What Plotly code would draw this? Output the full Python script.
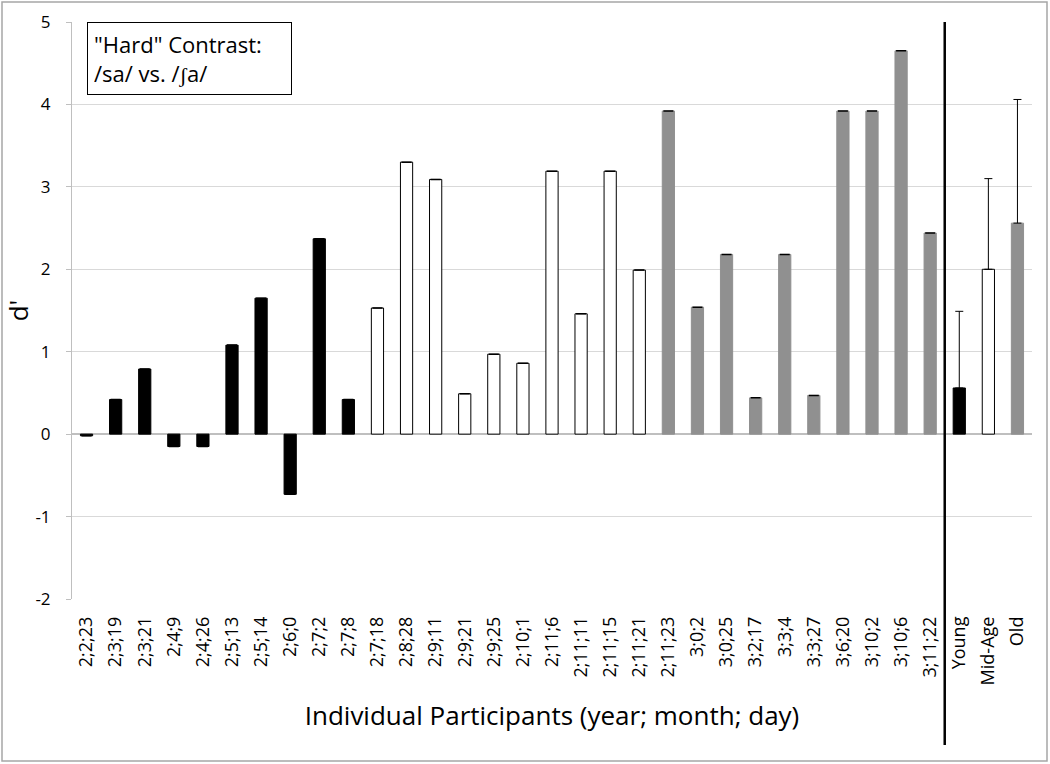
import plotly.graph_objects as go

participants = ["2;2;23", "2;3;19", "2;3;21", "2;4;9", "2;4;26", "2;5;13", "2;5;14", "2;6;0",
                "2;7;2", "2;7;8", "2;7;18", "2;8;28", "2;9;11", "2;9;21", "2;9;25", "2;10;1",
                "2;11;6", "2;11;11", "2;11;15", "2;11;21", "2;11;23", "3;0;2", "3;0;25", "3;2;17",
                "3;3;4", "3;3;27", "3;6;20", "3;10;2", "3;10;6", "3;11;22"]
participant_dprime = [-0.02, 0.42, 0.79, -0.15, -0.15, 1.08, 1.65, -0.73,
                      2.37, 0.42, 1.53, 3.30, 3.09, 0.49, 0.97, 0.86,
                      3.19, 1.46, 3.19, 1.99, 3.92, 1.54, 2.18, 0.44,
                      2.18, 0.47, 3.92, 3.92, 4.65, 2.44]
participant_group = ["Young"] * 10 + ["Mid-Age"] * 10 + ["Old"] * 10

groups = ["Young", "Mid-Age", "Old"]
group_mean = [0.56, 2.00, 2.56]
group_error = [0.93, 1.10, 1.50]

y_ticks = [-2, -1, 0, 1, 2, 3, 4, 5]
y_tick_labels = ["-2", "-1", "0", "1", "2", "3", "4", "5"]

fill = {"Young": "#000000", "Mid-Age": "#ffffff", "Old": "#909090"}
edge = {"Young": "#000000", "Mid-Age": "#000000", "Old": "#909090"}

font = "Open Sans"

# layout geometry (pixels)
W, H = 1050, 764
L, R, T, B = 72, 18, 22, 152
PH = H - T - B            # paper-area height
GAP = 13                  # space between plot bottom and category labels
Y0 = H - B                # pixel y of paper bottom


def py(pixel_y):
    return (Y0 - pixel_y) / PH


fig = go.Figure()
fig.add_trace(go.Bar(
    x=participants, y=participant_dprime,
    width=0.42,
    marker=dict(color=[fill[g] for g in participant_group],
                line=dict(color=[edge[g] for g in participant_group], width=1)),
    error_y=dict(type="data", array=[0] * len(participants), color="#000000",
                 thickness=1.5, width=5),
    showlegend=False,
))
fig.add_trace(go.Bar(
    x=groups, y=group_mean,
    width=0.42,
    marker=dict(color=[fill[g] for g in groups],
                line=dict(color=[edge[g] for g in groups], width=1)),
    error_y=dict(type="data", symmetric=False, array=group_error,
                 arrayminus=[0] * len(groups), color="#000000",
                 thickness=1, width=4),
    showlegend=False,
))

fig.update_layout(
    width=W, height=H,
    barmode="overlay",
    paper_bgcolor="white", plot_bgcolor="white",
    margin=dict(l=L, r=R, t=T, b=B, autoexpand=False),
    font=dict(family=font, color="#000000"),
    xaxis=dict(
        type="category", automargin=False,
        anchor="free", position=0,
        categoryorder="array", categoryarray=participants + groups,
        tickangle=-90, tickfont=dict(size=18),
        showgrid=False, showline=False, ticks="",
        title=dict(text="Individual Participants (year; month; day)",
                   font=dict(size=26), standoff=22),
    ),
    yaxis=dict(
        automargin=False,
        domain=[GAP / PH, 1],
        range=[-2, 5], tickvals=y_ticks, ticktext=y_tick_labels,
        tickfont=dict(size=17), ticklabelstandoff=12,
        showgrid=True, gridcolor="#d9d9d9", gridwidth=1,
        zeroline=True, zerolinecolor="#bfbfbf", zerolinewidth=1.5,
        showline=True, linecolor="#bfbfbf", linewidth=1,
        ticks="outside", ticklen=5, tickcolor="#bfbfbf",
        title=dict(text="d'", font=dict(size=26), standoff=14),
    ),
    shapes=[
        dict(type="line", xref="x", yref="paper", x0=29.5, x1=29.5, y0=py(745), y1=1,
             line=dict(color="#000000", width=2.5)),
        dict(type="rect", xref="paper", yref="paper",
             x0=-70 / 960, x1=975 / 960, y0=py(761), y1=py(2),
             line=dict(color="#a6a6a6", width=1.5)),
    ],
    annotations=[
        dict(text="\"Hard\" Contrast:<br>/sa/ vs. /ʃa/", xref="paper", yref="paper",
             x=(87 - 72) / 960, y=1.0, xanchor="left", yanchor="top",
             align="left", showarrow=False, width=191,
             font=dict(size=22, family=font, color="#000000"),
             bordercolor="#000000", borderwidth=1, borderpad=6, bgcolor="white"),
    ],
)

fig.write_html("out.html", config={"displayModeBar": False},
               post_script="document.body.style.margin='0px';")
